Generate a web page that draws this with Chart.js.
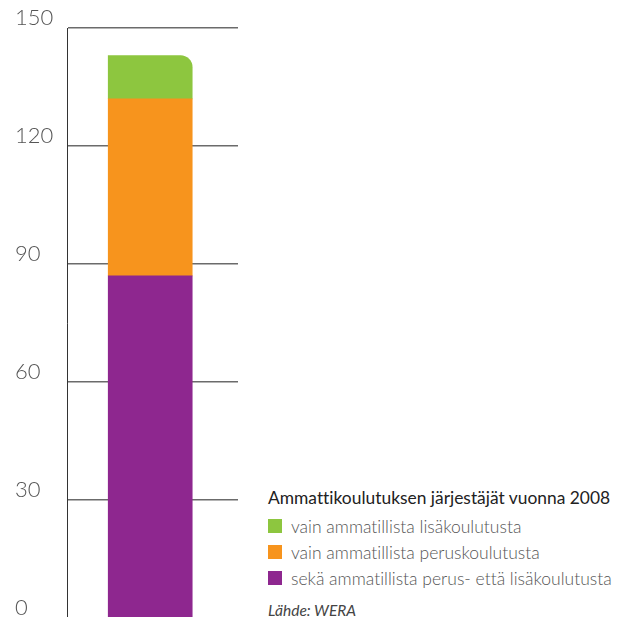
<!DOCTYPE html>
<html>
<head>
<meta charset="utf-8">
<script src="https://cdn.jsdelivr.net/npm/chart.js@4/dist/chart.umd.min.js"></script>
<style>
    html, body { margin: 0; padding: 0; background: #fff; overflow: hidden; }
    body { width: 620px; height: 617px; position: relative; font-family: Lato, sans-serif; font-variant-ligatures: none; }
    #chartBox { position: absolute; left: 0; top: 0; width: 240px; height: 621px; }
    #legend { position: absolute; left: 268px; top: 487px; color: #555; }
    #legend .title { font-size: 17.4px; color: #222; font-weight: 400; margin-bottom: 11px; white-space: nowrap; }
    #legend .item { font-size: 17.5px; font-weight: 300; height: 26px; line-height: 15px; white-space: nowrap; }
    #legend .swatch { display: inline-block; width: 14px; height: 14px; vertical-align: top; margin-right: 9px; }
    #legend .source { font-size: 15.5px; font-style: italic; color: #444; margin-top: 4px; font-weight: 400; }
</style>
</head>
<body>
<div id="chartBox"><canvas id="bars"></canvas></div>
<div id="legend"></div>

<script>
// Data
const categories = [0];
const seriesNames = [
    'sekä ammatillista perus- että lisäkoulutusta',
    'vain ammatillista peruskoulutusta',
    'vain ammatillista lisäkoulutusta'
];
const bothValues = [87];
const basicOnlyValues = [45];
const furtherOnlyValues = [11];
const yTicks = [0, 30, 60, 90, 120, 150];

const colors = ['#8e278f', '#f7941d', '#8dc63f'];
const legendTitle = 'Ammattikoulutuksen järjestäjät vuonna 2008';
const sourceText = 'Lähde: WERA';

// pair category positions with values for the linear x scale
function toPoints(values) {
    return values.map((v, i) => ({ x: categories[i], y: v }));
}

// Build the HTML legend (green on top, like the reference)
function buildLegend() {
    const box = document.getElementById('legend');
    let html = `<div class="title">${legendTitle}</div>`;
    [2, 1, 0].forEach(i => {
        html += `<div class="item"><span class="swatch" style="background:${colors[i]}"></span>${seriesNames[i]}</div>`;
    });
    html += `<div class="source">${sourceText}</div>`;
    box.innerHTML = html;
}

function drawChart() {
    const ctx = document.getElementById('bars').getContext('2d');
    new Chart(ctx, {
        type: 'bar',
        data: {
            datasets: [
                { label: seriesNames[0], data: toPoints(bothValues), backgroundColor: colors[0] },
                { label: seriesNames[1], data: toPoints(basicOnlyValues), backgroundColor: colors[1] },
                {
                    label: seriesNames[2], data: toPoints(furtherOnlyValues), backgroundColor: colors[2],
                    borderRadius: { topLeft: 0, topRight: 12, bottomLeft: 0, bottomRight: 0 },
                    borderSkipped: false
                }
            ]
        },
        options: {
            responsive: true,
            maintainAspectRatio: false,
            animation: false,
            barThickness: 84,
            layout: { padding: { left: 15, right: 2, top: 28, bottom: 3 } },
            plugins: {
                legend: { display: false },
                tooltip: { enabled: false }
            },
            scales: {
                x: {
                    type: 'linear',
                    stacked: true,
                    min: -0.48,
                    max: 0.52,
                    display: false
                },
                y: {
                    stacked: true,
                    min: yTicks[0],
                    max: yTicks[yTicks.length - 1],
                    afterBuildTicks: scale => {
                        scale.ticks = yTicks.map(v => ({ value: v }));
                    },
                    afterFit: scale => {
                        scale.width = 52;
                        scale.paddingTop = 0;
                        scale.paddingBottom = 0;
                    },
                    border: { display: true, color: '#333', width: 1 },
                    grid: {
                        color: '#6b6b6b',
                        lineWidth: 1.5,
                        drawTicks: false
                    },
                    ticks: {
                        crossAlign: 'far',
                        labelOffset: -10,
                        padding: 0,
                        color: '#555',
                        font: { family: 'Lato', size: 22, weight: 300 }
                    }
                }
            }
        }
    });
}

document.addEventListener('DOMContentLoaded', () => {
    buildLegend();
    drawChart();
});
</script>
</body>
</html>
